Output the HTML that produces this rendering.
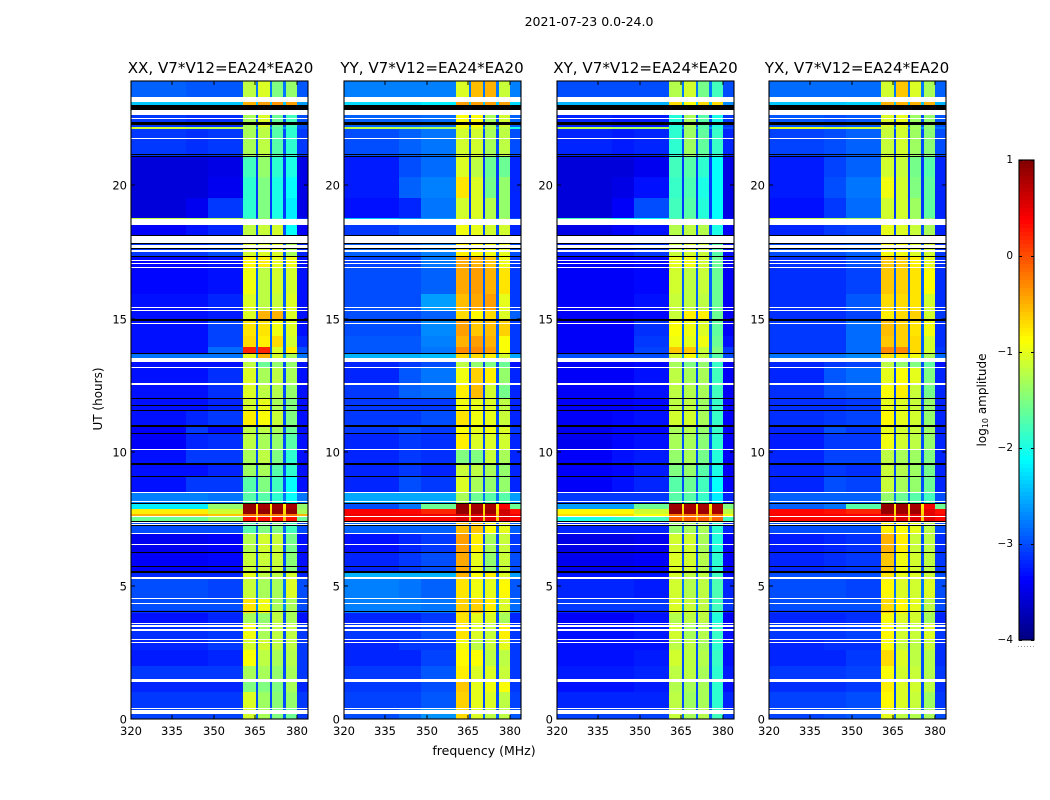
<!DOCTYPE html>
<html>
<head>
<meta charset="utf-8">
<title>2021-07-23 spectrogram</title>
<style>
html,body{margin:0;padding:0;background:#fff;}
svg{display:block;font-family:"DejaVu Sans","Liberation Sans",sans-serif;fill:#000;}
.tk{font-size:11.5px;}
.ti{font-size:15.1px;}
</style>
</head>
<body>
<svg id="chart" width="1050" height="800" viewBox="0 0 1050 800" xmlns="http://www.w3.org/2000/svg">
<rect width="1050" height="800" fill="#fff"/>
<text x="589" y="26" text-anchor="middle" font-size="12.5">2021-07-23 0.0-24.0</text>
<text class="ti" x="220.500" y="73" text-anchor="middle">XX, V7*V12=EA24*EA20</text>
<text class="ti" x="432" y="73" text-anchor="middle">YY, V7*V12=EA24*EA20</text>
<text class="ti" x="645.500" y="73" text-anchor="middle">XY, V7*V12=EA24*EA20</text>
<text class="ti" x="857" y="73" text-anchor="middle">YX, V7*V12=EA24*EA20</text>
<text font-size="12" text-anchor="middle" transform="translate(102,399) rotate(-90)">UT (hours)</text>
<text font-size="12.5" x="484" y="755" text-anchor="middle">frequency (MHz)</text>
<text font-size="12" text-anchor="middle" transform="translate(986,400) rotate(-90)">log<tspan font-size="8" dy="2">10</tspan><tspan dy="-2"> amplitude</tspan></text>
<line x1="1018" x2="1035" y1="646.500" y2="646.500" stroke="#999" stroke-width="1" stroke-dasharray="1 2"/>
<g id="panels"></g>
<g id="colorbar"></g>
</svg>
<script>
// Axis data
const xTicks = [320, 335, 350, 365, 380];
const yTicks = [0, 5, 10, 15, 20];
const colorTicks = [1, 0, -1, -2, -3, -4];
const panelNames = ['xx', 'yy', 'xy', 'yx'];
// Frequency columns in MHz: 3 low channels, 4 bands separated by gaps, and one high channel
const freqEdges = [320, 340, 348, 360.5, 365.1, 365.9, 370.1, 370.9, 375.1, 375.9, 380, 384];
// Time rows in hours
const rowEdges = [0,.43,1,1.44,1.99,2.59,2.99,3.59,3.98,4.08,4.53,5.28,5.48,6.27,6.97,7.42,7.57,7.69,7.87,8.07,8.47,9.06,9.56,10.06,10.66,11,11.55,12,12.55,13.15,13.39,13.69,13.94,14.34,14.94,15.34,15.93,16.93,17.33,18.13,18.72,18.77,19.52,20.32,21.06,22.11,22.16,22.81,23.1,23.9];
// log10 amplitude in the dark gaps between bands, per row
const gapLevels = [-2.9,-3,-3,-3,-3,-3,-3,-3,-2.8,-2.7,-2.8,-2.9,-3,-3,-2.9,-.6,-.6,-.7,-.8,-2.8,-3,-3,-3,-3,-3,-3,-3,-3,-3,-3,-2.6,-2.9,-2.9,-2.9,-3,-2.9,-2.9,-2.9,-2.9,-3,-2.8,-3.1,-3.1,-3.1,-3,-2.6,-3,-2.4,-2.8];
// Rows: [low A, low B, low C, band 1, band 2, band 3, band 4, high]
const levelsXX = [
[-3.05,-3.05,-3.05,-1.1,-1.3,-1.5,-1.6,-3.1],
[-3.1,-3.1,-3.1,-1.05,-1.35,-1.45,-1.4,-3.1],
[-3.2,-3.2,-3.2,-1.5,-1.5,-1.5,-1.3,-3.2],
[-3.1,-3.1,-3.1,-1.3,-1.3,-1.4,-1.3,-3.1],
[-3.25,-3.25,-3.2,-.9,-1.2,-1.3,-1.25,-3.1],
[-3.2,-3.2,-3.1,-1.1,-1.1,-1.2,-1.2,-3.1],
[-3.15,-3.15,-3.1,-.95,-1.3,-1.2,-1.2,-3.1],
[-3.3,-3.3,-3.2,-1.3,-1.4,-1.2,-1.3,-3.3],
[-3.1,-3.1,-3.1,-.7,-.8,-1.2,-1.3,-3.1],
[-3,-3,-3,-.75,-.95,-1.3,-1.3,-3],
[-3,-3,-3.05,-1.15,-1.3,-1.3,-1.05,-3],
[-3.2,-3.2,-3.2,-1,-1.2,-1.2,-1.1,-3.2],
[-3.4,-3.4,-3.35,-1.15,-1.15,-1.15,-1.45,-3.3],
[-3.45,-3.45,-3.4,-1.25,-1.1,-1.15,-1.55,-3.3],
[-3,-3,-3,-1.7,-1.5,-1.5,-1.8,-3],
[-1.6,-1.6,-1.4,.3,.3,.3,.3,-1.6],
[-.5,-.5,-.6,-.2,-.2,-.2,-.2,-.5],
[-.8,-.8,-1.1,.9,.9,.9,.9,-1.3],
[-2.2,-2.2,-1.4,.9,.8,.85,.8,-1.4],
[-2.75,-2.75,-2.8,-1.7,-1.7,-1.9,-2.1,-2.8],
[-3.3,-3.1,-3.1,-1.7,-1.5,-1.8,-2.1,-3.3],
[-3.3,-3.3,-3.2,-1.35,-1.3,-1.7,-1.9,-3.3],
[-3.3,-3.1,-3.1,-1.3,-1.2,-1.5,-1.9,-3.3],
[-3.4,-3.2,-3.15,-1.2,-1.3,-1.4,-1.7,-3.3],
[-3.4,-3.1,-3.3,-1.2,-1.2,-1.3,-1.6,-3.3],
[-3.3,-3.2,-3.1,-.8,-.9,-1.15,-1.5,-3.3],
[-3.3,-3.3,-3.2,-1.1,-1,-1.3,-1.5,-3.3],
[-3.3,-3.3,-3.15,-1.05,-1.2,-1.25,-1.4,-3.3],
[-3.3,-3.3,-3.15,-1.05,-1.3,-1.2,-1.3,-3.3],
[-3.3,-3.3,-3.3,-1.2,-1.6,-1.4,-1.4,-3.3],
[-2.8,-2.8,-2.8,-1,-.5,-1.1,-1.3,-2.8],
[-3.3,-3.3,-2.85,.2,.2,-1.05,-.8,-3],
[-3.3,-3.3,-3.05,-.7,-.8,-.7,-1.1,-3.2],
[-3.3,-3.3,-3.05,-.75,-.75,-.95,-1.05,-3.3],
[-3.3,-3.3,-3.25,-1.05,-.5,-.5,-1.05,-3.3],
[-3.3,-3.3,-3.2,-1.05,-1.2,-1.15,-1.05,-3.3],
[-3.35,-3.35,-3.3,-.95,-1.2,-1.1,-1.1,-3.3],
[-3.35,-3.35,-3.3,-.85,-.8,-1,-.95,-3.3],
[-3.1,-3.1,-3,-1.1,-1.05,-1.05,-1.3,-3.2],
[-3.4,-3.3,-3.2,-1.2,-1.15,-1.1,-2.1,-3.4],
[-1.2,-1.3,-1.3,-1.7,-1.4,-1.8,-2.1,-3.2],
[-3.55,-3.45,-3.1,-1.9,-1.5,-2,-2.2,-3.5],
[-3.55,-3.55,-3.45,-1.9,-1.5,-2,-2.1,-3.5],
[-3.55,-3.55,-3.5,-1.8,-1.4,-1.9,-2,-3.5],
[-3.1,-3.15,-3.1,-1.3,-1.2,-1.7,-1.9,-3.1],
[-1.1,-1.2,-1.2,-1.3,-1.2,-1.7,-1.9,-3],
[-3.1,-3.15,-3.15,-1.3,-1.05,-1.6,-1.8,-3],
[-2.4,-2.4,-2.4,-.5,-.4,-.35,-.4,-2.6],
[-2.9,-2.95,-2.95,-1.2,-1.05,-1.5,-1.4,-2.95]
];
const levelsYY = [
[-3,-2.85,-2.65,-.7,-1.05,-1.2,-1.2,-2.95],
[-3.05,-3.05,-2.95,-.65,-1,-1.05,-1.2,-3.05],
[-3.1,-3.1,-3,-.6,-1,-.95,-.9,-3.1],
[-3.1,-3.1,-2.95,-.8,-1.05,-1.05,-1.15,-3.1],
[-3.2,-3.2,-3.05,-.85,-.9,-1.2,-1.2,-3.1],
[-3.2,-3.1,-3.1,-.95,-1.2,-1.15,-1,-3.1],
[-3.1,-3.1,-3,-.75,-1.05,-1.15,-.8,-3.1],
[-3.2,-3.2,-3.1,-.75,-1,-1.05,-1.3,-3.2],
[-2.75,-2.75,-2.75,-.6,-.5,-.9,-1.1,-2.8],
[-2.75,-2.75,-2.8,-.65,-.65,-.8,-1.05,-2.85],
[-2.75,-2.8,-2.9,-.75,-.95,-1,-.85,-2.95],
[-2.5,-2.5,-2.5,-.5,-.9,-.8,-1.05,-2.6],
[-3.2,-3.1,-3,-.45,-1,-1.4,-1.15,-3],
[-3.3,-3.2,-3.1,-.4,-.8,-1.3,-1.15,-3.1],
[-2.9,-2.9,-2.9,-.55,-.6,-.9,-1,-2.9],
[.35,.35,.35,.5,.5,.5,.5,.35],
[.45,.45,.45,.55,.55,.55,.55,.45],
[.4,.35,.2,.9,.85,.85,.6,.3],
[-3,-2.8,-1.6,.9,.8,.8,.4,-1.6],
[-2.55,-2.55,-2.55,-1.3,-1.6,-1.7,-1.7,-2.6],
[-3.2,-3,-3.1,-1.05,-1.3,-1.4,-1.4,-3.2],
[-3.2,-3.1,-3.2,-1.15,-1.2,-1.3,-1.4,-3.2],
[-3.2,-3.1,-3.15,-1.5,-1.5,-1.15,-1.3,-3.2],
[-3.2,-3.1,-3.15,-.8,-1.05,-1.05,-1.1,-3.2],
[-3.1,-3,-3.1,-.9,-1,-.95,-1.05,-3.1],
[-3.1,-3.1,-3,-.75,-.95,-1,-1.15,-3.2],
[-3.1,-3.1,-3.1,-.95,-1,-1.05,-1.2,-3.2],
[-3.1,-2.9,-2.85,-.8,-.55,-1.1,-1.55,-3.2],
[-3.2,-2.95,-2.8,-.95,-.65,-.8,-1.4,-3.2],
[-3.2,-3.1,-3,-1.2,-1.4,-1.5,-1.6,-3.3],
[-2.5,-2.5,-2.45,-.7,-.7,-.8,-1.1,-2.55],
[-2.95,-2.95,-2.8,-.3,-.3,-.4,-.9,-3.1],
[-2.95,-2.95,-2.75,-.5,-.4,-.5,-.9,-3.1],
[-3,-3,-2.7,-.4,-.6,-.55,-.65,-3.1],
[-3,-3,-2.9,-.7,-.85,-.7,-1.05,-2.9],
[-3,-3,-2.6,-.55,-.45,-.4,-1,-3.1],
[-3,-3,-2.9,-.45,-.4,-.5,-.75,-3.1],
[-3.05,-3.05,-2.8,-.45,-.5,-.6,-.95,-3.1],
[-2.9,-2.9,-2.75,-.8,-.9,-.95,-1,-3],
[-3.1,-3,-3,-.95,-1,-1.1,-1.1,-3.2],
[-2.4,-2.6,-2.6,-1,-1.1,-1.2,-1.3,-3],
[-3.3,-3.2,-2.8,-1.1,-1.05,-1.25,-1.4,-3.2],
[-3.25,-2.9,-2.75,-.75,-1.05,-1.55,-1.4,-3.2],
[-3.25,-3,-2.85,-1.05,-1.2,-1.6,-1.6,-3.2],
[-3,-2.9,-2.8,-1.1,-1.1,-1.3,-1.2,-3],
[-1.2,-1.3,-1.3,-1,-1,-1.2,-1.2,-2],
[-2.9,-2.9,-2.85,-.9,-.9,-1.3,-1.1,-2.9],
[-2.3,-2.3,-2.2,-.4,-.4,-.4,-.4,-2.3],
[-2.75,-2.75,-2.75,-1.05,-.55,-.5,-1.15,-2.75]
];
const levelsXY = [
[-3.05,-3.05,-3.05,-1.15,-1.3,-1.25,-1.8,-3.1],
[-3.2,-3.2,-3.2,-1.2,-1.35,-1.3,-1.9,-3.2],
[-3.3,-3.3,-3.25,-1.25,-1.3,-1.3,-1.9,-3.3],
[-3.25,-3.25,-3.2,-1.2,-1.2,-1.3,-1.9,-3.25],
[-3.3,-3.3,-3.25,-1.1,-1.2,-1.25,-1.85,-3.3],
[-3.3,-3.3,-3.3,-1.2,-1.2,-1.3,-1.9,-3.3],
[-3.3,-3.3,-3.25,-1.1,-1.3,-1.25,-1.85,-3.3],
[-3.4,-3.4,-3.3,-1.25,-1.2,-1.2,-1.95,-3.4],
[-3.2,-3.2,-3.2,-1,-1.1,-1.15,-1.8,-3.2],
[-3.1,-3.1,-3.1,-1.05,-1.15,-1.2,-1.8,-3.1],
[-3.2,-3.2,-3.25,-1.1,-1.25,-1.2,-1.75,-3.2],
[-3.3,-3.3,-3.3,-1.1,-1.2,-1.2,-1.8,-3.3],
[-3.45,-3.45,-3.4,-1.05,-1.1,-1.25,-1.9,-3.4],
[-3.5,-3.5,-3.45,-1.1,-1.1,-1.3,-1.95,-3.4],
[-3.2,-3.2,-3.2,-1.4,-1.3,-1.3,-1.9,-3.2],
[-2,-1.9,-1.8,-.1,-.1,-.1,-.1,-1.8],
[-.7,-.7,-.9,-.2,-.2,-.2,-.2,-.9],
[-.85,-.85,-1.1,.9,.85,.85,.8,-1.2],
[-2.6,-2.6,-1.6,.85,.8,.8,.8,-1.5],
[-3.1,-3.1,-3.1,-1.7,-1.7,-1.85,-2.2,-3.2],
[-3.4,-3.3,-3.2,-1.7,-1.6,-1.8,-2.1,-3.4],
[-3.4,-3.35,-3.25,-1.5,-1.4,-1.7,-2,-3.4],
[-3.4,-3.3,-3.25,-1.4,-1.3,-1.55,-1.95,-3.4],
[-3.45,-3.35,-3.3,-1.3,-1.3,-1.45,-1.9,-3.4],
[-3.45,-3.35,-3.35,-1.3,-1.25,-1.4,-1.85,-3.4],
[-3.4,-3.35,-3.3,-1.1,-1.1,-1.3,-1.85,-3.4],
[-3.4,-3.4,-3.35,-1.2,-1.2,-1.35,-1.85,-3.4],
[-3.4,-3.4,-3.3,-1.2,-1.25,-1.3,-1.8,-3.4],
[-3.4,-3.4,-3.3,-1.2,-1.3,-1.3,-1.8,-3.4],
[-3.4,-3.4,-3.35,-1.3,-1.5,-1.4,-1.85,-3.4],
[-3,-3,-3,-1.1,-.9,-1.2,-1.7,-3],
[-3.4,-3.4,-3.05,-.6,-.6,-1.15,-1.5,-3.1],
[-3.4,-3.4,-3.1,-.95,-1,-.95,-1.6,-3.3],
[-3.4,-3.4,-3.15,-.9,-.95,-1.05,-1.65,-3.4],
[-3.4,-3.4,-3.35,-1.15,-.8,-.8,-1.6,-3.4],
[-3.4,-3.4,-3.3,-1.15,-1.2,-1.2,-1.6,-3.4],
[-3.4,-3.4,-3.35,-1.1,-1.2,-1.15,-1.6,-3.4],
[-3.4,-3.4,-3.35,-1,-.95,-1.1,-1.6,-3.4],
[-3.2,-3.2,-3.1,-1.15,-1.1,-1.15,-1.7,-3.3],
[-3.5,-3.4,-3.3,-1.25,-1.2,-1.25,-2,-3.4],
[-1.8,-2,-2.1,-1.7,-1.5,-1.8,-2.1,-3.3],
[-3.55,-3.4,-3,-1.8,-1.7,-1.95,-2.1,-3.5],
[-3.55,-3.5,-3.3,-1.85,-1.75,-2,-2.1,-3.5],
[-3.55,-3.55,-3.45,-1.8,-1.7,-1.9,-2.1,-3.5],
[-3.2,-3.25,-3.2,-1.9,-1.35,-1.65,-1.85,-3.2],
[-1.2,-1.3,-1.3,-1.9,-1.4,-1.7,-1.9,-3],
[-3.2,-3.25,-3.25,-1.95,-1.3,-1.7,-2,-3.1],
[-2.5,-2.5,-2.5,-.7,-.9,-.7,-.7,-2.7],
[-3,-3,-3,-1.25,-1.1,-1.55,-1.8,-3]
];
const levelsYX = [
[-3.05,-3,-2.95,-1,-1.2,-1.25,-1.3,-3],
[-3.05,-3.05,-3,-.85,-1.05,-1.15,-1.35,-3.1],
[-3.15,-3.15,-3.1,-.8,-1.05,-1.1,-1.2,-3.15],
[-3.1,-3.1,-3.05,-.9,-1.1,-1.15,-1.25,-3.1],
[-3.2,-3.2,-3.1,-.7,-1.05,-1.2,-1.25,-3.15],
[-3.2,-3.15,-3.15,-.9,-1.15,-1.2,-1.15,-3.15],
[-3.1,-3.1,-3.05,-.85,-1.1,-1.15,-1.05,-3.1],
[-3.2,-3.2,-3.15,-.9,-1.05,-1.1,-1.3,-3.2],
[-3.1,-3.1,-3.1,-.6,-.8,-1.05,-1.2,-3.1],
[-3,-3,-3,-.7,-.85,-1,-1.2,-3],
[-3,-3,-3.05,-.85,-1.05,-1.1,-1.05,-3],
[-3,-3,-3,-.75,-1,-1.05,-1.15,-3],
[-3.2,-3.15,-3.1,-.6,-.95,-1.1,-1.2,-3.1],
[-3.25,-3.2,-3.15,-.5,-.8,-1.15,-1.2,-3.15],
[-3,-3,-3,-.8,-.9,-1,-1.2,-3],
[.35,.35,.35,.5,.5,.5,.5,.35],
[.4,.4,.4,.5,.5,.5,.5,.4],
[.35,.3,.2,.9,.85,.85,.5,.3],
[-2.9,-2.8,-1.7,.9,.85,.8,.4,-1.6],
[-2.9,-2.9,-2.9,-1.4,-1.6,-1.7,-1.8,-3],
[-3.2,-3,-3.05,-1.15,-1.3,-1.4,-1.6,-3.2],
[-3.2,-3.1,-3.15,-1.15,-1.25,-1.35,-1.55,-3.2],
[-3.2,-3.05,-3.05,-1.2,-1.3,-1.35,-1.5,-3.2],
[-3.25,-3.1,-3.1,-.95,-1.1,-1.2,-1.4,-3.2],
[-3.2,-3,-3.1,-1,-1.1,-1.15,-1.35,-3.2],
[-3.15,-3.1,-3.05,-.85,-1,-1.1,-1.4,-3.2],
[-3.15,-3.15,-3.1,-1,-1.05,-1.15,-1.4,-3.2],
[-3.15,-3,-2.95,-.9,-.8,-1.15,-1.55,-3.2],
[-3.2,-2.95,-2.85,-1,-.9,-1,-1.5,-3.2],
[-3.2,-3.1,-3.05,-1.2,-1.4,-1.5,-1.65,-3.3],
[-2.8,-2.8,-2.7,-.75,-.8,-.95,-1.3,-2.85],
[-3.1,-3.1,-2.85,-.3,-.3,-.7,-1.1,-3.1],
[-3.1,-3.1,-2.85,-.6,-.65,-.7,-1.1,-3.15],
[-3.1,-3.1,-2.85,-.55,-.65,-.75,-.95,-3.15],
[-3.15,-3.15,-3.05,-.8,-.7,-.65,-1.1,-3.1],
[-3.15,-3.15,-2.95,-.7,-.7,-.75,-1.1,-3.15],
[-3.15,-3.15,-3.05,-.6,-.65,-.75,-.9,-3.15],
[-3.15,-3.15,-3,-.6,-.65,-.8,-1,-3.15],
[-3,-3,-2.9,-.9,-.95,-1.05,-1.1,-3.1],
[-3.2,-3.1,-3.05,-1,-1.05,-1.15,-1.3,-3.2],
[-1.2,-1.3,-1.3,-1.1,-1.1,-1.3,-1.4,-3.1],
[-3.3,-3.1,-2.85,-1.1,-1.1,-1.35,-1.65,-3.2],
[-3.25,-3,-2.8,-.95,-1.1,-1.5,-1.65,-3.2],
[-3.25,-3.05,-2.9,-1.1,-1.15,-1.55,-1.7,-3.2],
[-3.05,-3,-2.9,-1.15,-1.1,-1.35,-1.45,-3],
[-1,-1.1,-1.1,-1.15,-1.1,-1.3,-1.4,-2.8],
[-2.95,-3,-2.95,-1.05,-1,-1.35,-1.4,-2.95],
[-2.4,-2.4,-2.35,-.5,-.5,-.5,-.5,-2.5],
[-2.85,-2.85,-2.85,-1.1,-.6,-1.05,-1.3,-2.9]
];
const panelLevels = [levelsXX, levelsYY, levelsXY, levelsYX];
// Flagged (white) and zero-amplitude (black) time ranges in hours
const flaggedHours = [[.18,.34],[.36,.43],[1.4,1.48],[2.83,2.87],[2.95,3],[3.29,3.36],[3.46,3.51],[3.58,3.61],[4.31,4.36],[4.48,4.53],[5.25,5.32],[6.51,6.56],[6.93,6.98],[7.25,7.31],[7.34,7.39],[7.57,7.62],[8.12,8.17],[8.46,8.51],[10.07,10.12],[12.53,12.58],[13.15,13.2],[13.37,13.52],[14.8,14.85],[15.29,15.33],[15.4,15.45],[16.88,16.93],[17.04,17.07],[17.17,17.2],[17.5,17.57],[17.65,17.76],[17.84,18.08],[18.52,18.72],[21.71,21.75],[22.49,22.53],[22.63,22.82],[23.1,23.31]];
const blankHours = [[4.01,4.04],[5.47,5.53],[5.7,5.74],[6.24,6.27],[7.23,7.25],[7.39,7.42],[8.05,8.09],[9.07,9.11],[9.53,9.59],[10.67,10.71],[10.95,11.02],[11.54,11.58],[11.73,11.76],[11.98,12.02],[13.67,13.71],[14.91,14.97],[17.31,17.35],[17.61,17.65],[17.79,17.84],[18.08,18.13],[21.05,21.09],[21.11,21.15],[22.27,22.31],[22.34,22.38],[22.82,23.01]];

// Layout
const NS = 'http://www.w3.org/2000/svg';
const panelLefts = [131, 344, 557, 769];
const panelW = 177, plotTop = 81, plotBottom = 719, hourMax = 23.9;
const cbLeft = 1019, cbW = 15, cbTop = 160, cbBottom = 640;
const xScale = (f, left) => left + (f - 320) / 64 * panelW;
const yScale = h => plotBottom - h / hourMax * (plotBottom - plotTop);
const cScale = v => cbTop + (1 - v) / 5 * (cbBottom - cbTop);
const clamp = v => Math.max(0, Math.min(1, v));
function jet(v) {
  const t = clamp((v + 4) / 5);
  const r = clamp(1.5 - Math.abs(4 * t - 3));
  const g = clamp(1.5 - Math.abs(4 * t - 2));
  const b = clamp(1.5 - Math.abs(4 * t - 1));
  return 'rgb(' + Math.round(r * 255) + ',' + Math.round(g * 255) + ',' + Math.round(b * 255) + ')';
}
function mk(tag, parent, attrs) {
  const el = document.createElementNS(NS, tag);
  for (const k in attrs) el.setAttribute(k, attrs[k]);
  parent.appendChild(el);
  return el;
}
const root = document.getElementById('panels');
panelNames.forEach((name, p) => {
  const left = panelLefts[p];
  const g = mk('g', root, {'shape-rendering': 'crispEdges'});
  
  
  const levels = panelLevels[p];
  for (let r = 0; r < rowEdges.length - 1; r++) {
    const y0 = Math.round(yScale(rowEdges[r + 1]));
    const y1 = Math.round(yScale(rowEdges[r]));
    for (let c = 0; c < freqEdges.length - 1; c++) {
      // Band-gap columns use the gap levels; the others map to the row's 8 values
      const isGap = c === 4 || c === 6 || c === 8;
      const map = [0, 1, 2, 3, -1, 4, -1, 5, -1, 6, 7];
      const v = isGap ? gapLevels[r] : levels[r][map[c]];
      const x0 = Math.round(xScale(freqEdges[c], left));
      const x1 = Math.round(xScale(freqEdges[c + 1], left));
      const cell = mk('rect', g, {x: x0, y: y0, width: Math.max(1, x1 - x0), height: Math.max(1, y1 - y0), fill: jet(v)});
      
      
    }
  }
  flaggedHours.forEach(h => {
    const y0 = Math.round(yScale(h[1]));
    const y1 = Math.round(yScale(h[0]));
    const band = mk('rect', g, {x: left, y: y0, width: panelW, height: Math.max(1, y1 - y0), fill: '#fff'});
    
    
  });
  blankHours.forEach(h => {
    const y0 = Math.round(yScale(h[1]));
    const y1 = Math.round(yScale(h[0]));
    const band = mk('rect', g, {x: left, y: y0, width: panelW, height: Math.max(1, y1 - y0), fill: '#000'});
    
    
  });
  const frame = mk('rect', g, {x: left, y: plotTop, width: panelW, height: plotBottom - plotTop, fill: 'none', stroke: '#000', 'stroke-width': 1.1, 'shape-rendering': 'auto'});
  
  
  xTicks.forEach(f => {
    const x = Math.round(xScale(f, left));
    const t1 = mk('line', g, {x1: x, x2: x, y1: plotBottom, y2: plotBottom - 4, stroke: '#000'});
    
    
    const t2 = mk('line', g, {x1: x, x2: x, y1: plotTop, y2: plotTop + 4, stroke: '#000'});
    
    
    const lab = mk('text', root, {x: x, y: 735, 'text-anchor': 'middle', class: 'tk'});
    lab.textContent = f;
    
    
  });
  yTicks.forEach(h => {
    const y = Math.round(yScale(h));
    const t1 = mk('line', g, {x1: left, x2: left + 4, y1: y, y2: y, stroke: '#000'});
    
    
    const t2 = mk('line', g, {x1: left + panelW, x2: left + panelW - 4, y1: y, y2: y, stroke: '#000'});
    
    
    const lab = mk('text', root, {x: left - 4, y: y + 4.5, 'text-anchor': 'end', class: 'tk'});
    lab.textContent = h;
    
    
  });
});
// Colorbar
const cb = document.getElementById('colorbar');
const cbSteps = [];
for (let i = 0; i < 120; i++) cbSteps.push(1 - (i + .5) / 120 * 5);
cbSteps.forEach(v => {
  const y0 = cScale(v + 5 / 240);
  const seg = mk('rect', cb, {x: cbLeft, y: y0, width: cbW, height: (cbBottom - cbTop) / 120 + .5, fill: jet(v), 'shape-rendering': 'crispEdges'});
  
  
});
const cbFrame = mk('rect', cb, {x: cbLeft, y: cbTop, width: cbW, height: cbBottom - cbTop, fill: 'none', stroke: '#000', 'stroke-width': 1.1});


colorTicks.forEach(v => {
  const y = Math.round(cScale(v));
  const t1 = mk('line', cb, {x1: cbLeft, x2: cbLeft + 3, y1: y + .5, y2: y + .5, stroke: '#000'});
  
  
  const t2 = mk('line', cb, {x1: cbLeft + cbW, x2: cbLeft + cbW - 3, y1: y + .5, y2: y + .5, stroke: '#000'});
  
  
  const lab = mk('text', cb, {x: cbLeft - 6, y: y + 3, 'text-anchor': 'end', 'font-size': 10.5});
  lab.textContent = String(v).replace('-', '\u2212');
  
  
});
</script>
</body>
</html>
